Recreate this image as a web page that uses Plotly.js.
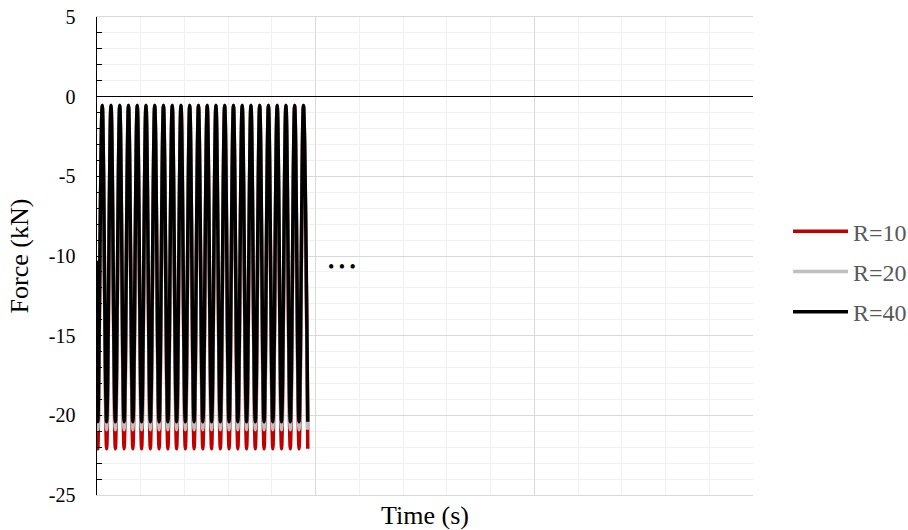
<!DOCTYPE html>
<html>
<head>
<meta charset="utf-8">
<script src="https://cdn.plot.ly/plotly-3.0.1.min.js"></script>
<style>html,body{margin:0;padding:0;background:#fff;}#chart{width:908px;height:530px;}</style>
</head>
<body>
<div id="chart"></div>
<script>
// Time samples (s): start, then alternating troughs and peaks
const time = [0, 0.004, 0.024, 0.044, 0.064, 0.084, 0.104, 0.124, 0.144, 0.164, 0.184,
  0.204, 0.224, 0.244, 0.264, 0.284, 0.304, 0.324, 0.344, 0.364, 0.384,
  0.404, 0.424, 0.444, 0.464, 0.484, 0.504, 0.524, 0.544, 0.564, 0.584,
  0.604, 0.624, 0.644, 0.664, 0.684, 0.704, 0.724, 0.744, 0.764, 0.784,
  0.804, 0.824, 0.844, 0.864, 0.884, 0.904, 0.924, 0.944, 0.964];

// Force (kN) per series
const forceR10 = [-10.3, -22.1, -0.55, -22.1, -0.55, -22.1, -0.55, -22.1, -0.55, -22.1, -0.55,
  -22.1, -0.55, -22.1, -0.55, -22.1, -0.55, -22.1, -0.55, -22.1, -0.55,
  -22.1, -0.55, -22.1, -0.55, -22.1, -0.55, -22.1, -0.55, -22.1, -0.55,
  -22.1, -0.55, -22.1, -0.55, -22.1, -0.55, -22.1, -0.55, -22.1, -0.55,
  -22.1, -0.55, -22.1, -0.55, -22.1, -0.55, -22.1, -0.55, -22.1];
const forceR20 = [-10.3, -20.9, -0.55, -20.9, -0.55, -20.9, -0.55, -20.9, -0.55, -20.9, -0.55,
  -20.9, -0.55, -20.9, -0.55, -20.9, -0.55, -20.9, -0.55, -20.9, -0.55,
  -20.9, -0.55, -20.9, -0.55, -20.9, -0.55, -20.9, -0.55, -20.9, -0.55,
  -20.9, -0.55, -20.9, -0.55, -20.9, -0.55, -20.9, -0.55, -20.9, -0.55,
  -20.9, -0.55, -20.9, -0.55, -20.9, -0.55, -20.9, -0.55, -20.9];
const forceR40 = [-10.3, -20.4, -0.55, -20.4, -0.55, -20.4, -0.55, -20.4, -0.55, -20.4, -0.55,
  -20.4, -0.55, -20.4, -0.55, -20.4, -0.55, -20.4, -0.55, -20.4, -0.55,
  -20.4, -0.55, -20.4, -0.55, -20.4, -0.55, -20.4, -0.55, -20.4, -0.55,
  -20.4, -0.55, -20.4, -0.55, -20.4, -0.55, -20.4, -0.55, -20.4, -0.55,
  -20.4, -0.55, -20.4, -0.55, -20.4, -0.55, -20.4, -0.55, -20.4];

const seriesNames = ['R=10', 'R=20', 'R=40'];
const seriesColors = ['#C00000', '#BFBFBF', '#000000'];
const yTickVals = [5, 0, -5, -10, -15, -20, -25];
const yTickText = ['5', '0', '-5', '-10', '-15', '-20', '-25'];

const serif = '"Liberation Serif", "Times New Roman", serif';
const ys = [forceR10, forceR20, forceR40];

const traces = ys.map((y, i) => ({
  type: 'scatter', mode: 'lines', x: time, y: y, name: seriesNames[i],
  legendgroup: seriesNames[i],
  line: {color: seriesColors[i], width: 3.5, shape: 'spline', smoothing: 1},
  hoverinfo: 'skip'
}));

const layout = {
  width: 908, height: 530,
  margin: {l: 97, r: 155, t: 17, b: 35, pad: 0, autoexpand: false},
  paper_bgcolor: '#fff', plot_bgcolor: '#fff',
  font: {family: serif, color: '#000', size: 24},
  showlegend: true,
  legend: {
    x: 1.0534, xanchor: 'left', y: 0.467, yanchor: 'middle',
    font: {family: serif, size: 24, color: '#595959'},
    itemwidth: 55, tracegroupgap: 6, traceorder: 'grouped',
    bgcolor: 'rgba(0,0,0,0)'
  },
  xaxis: {
    range: [0, 3], dtick: 1, tick0: 0, showticklabels: false, ticks: '',
    showgrid: true, gridcolor: '#d9d9d9', gridwidth: 1,
    minor: {dtick: 0.2, tick0: 0, showgrid: true, gridcolor: '#f0f0f0', gridwidth: 1},
    zeroline: false, showline: true, linecolor: '#d9d9d9', linewidth: 1, mirror: true,
    title: {text: 'Time (s)', font: {family: serif, size: 26, color: '#000'}, standoff: 10},
    automargin: false, fixedrange: true
  },
  yaxis: {
    range: [-25, 5], tickmode: 'array', tickvals: yTickVals, ticktext: yTickText,
    ticks: 'inside', ticklen: 5, tickwidth: 1, tickcolor: '#000',
    ticklabelstandoff: 16,
    tickfont: {family: serif, size: 20, color: '#000'},
    minor: {dtick: 1, tick0: 0, ticks: 'inside', ticklen: 5, tickcolor: '#000', tickwidth: 1,
            showgrid: true, gridcolor: '#f0f0f0', gridwidth: 1},
    showgrid: true, gridcolor: '#d9d9d9', gridwidth: 1,
    zeroline: true, zerolinecolor: '#000', zerolinewidth: 1.5,
    showline: true, linecolor: '#000', linewidth: 1.5,
    title: {text: 'Force (kN)', font: {family: serif, size: 26, color: '#000'}, standoff: 12},
    automargin: false, fixedrange: true
  },
  annotations: [{
    xref: 'x', yref: 'y', x: 1.12, y: -10.7, showarrow: false,
    text: '\u2022\u00a0\u2022\u00a0\u2022',
    font: {family: serif, size: 18, color: '#000'}
  }]
};

Plotly.newPlot('chart', traces, layout, {staticPlot: true, displayModeBar: false});
</script>
</body>
</html>
